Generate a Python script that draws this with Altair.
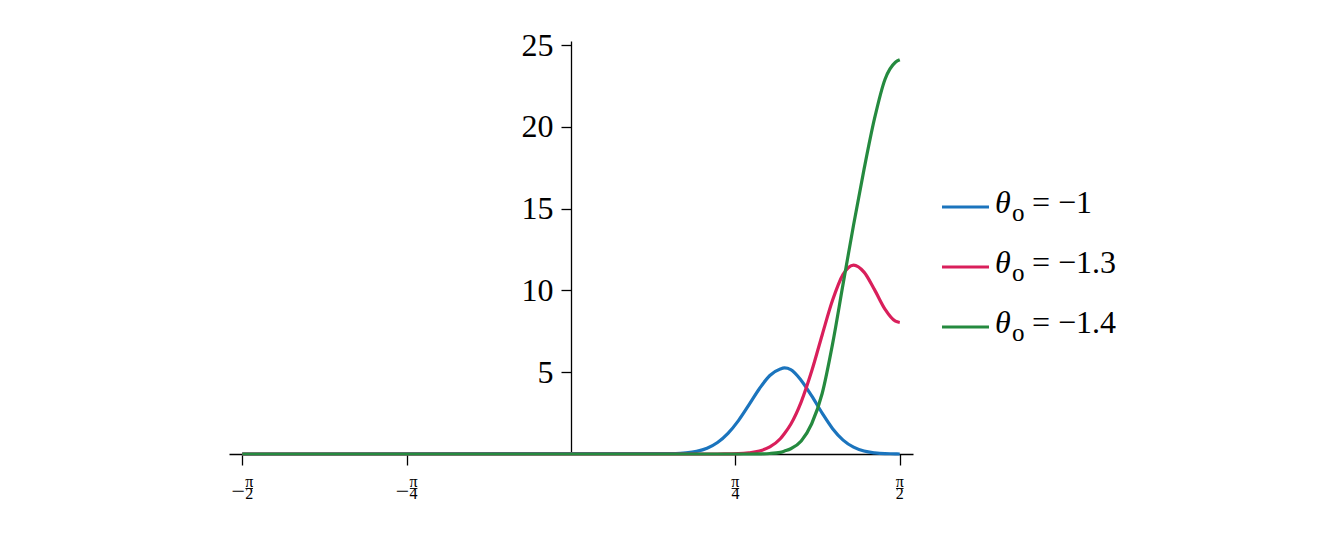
import math
import pandas as pd
import altair as alt

PI = math.pi

# ---- data ----
x_vals = [-PI / 2, 0.50, 0.55, 0.60, 0.65, 0.70, 0.75, 0.80, 0.85, 0.90, 0.95,
          1.00, 1.02, 1.05, 1.10, 1.15, 1.20, 1.25, 1.30, 1.35, 1.40, 1.45, 1.50, 1.55, PI / 2]
blue_vals = [0, 0.03, 0.07, 0.16, 0.35, 0.70, 1.26, 2.04, 3.00, 3.99, 4.80,
             5.20, 5.26, 5.16, 4.50, 3.55, 2.50, 1.55, 0.85, 0.42, 0.18, 0.07, 0.02, 0.01, 0.0]
red_vals = [0, 0, 0, 0, 0, 0, 0.01, 0.02, 0.07, 0.18, 0.43,
            0.93, 1.25, 1.82, 3.19, 5.07, 7.28, 9.41, 10.98, 11.55, 11.12, 10.05, 8.86, 8.12, 8.04]
green_vals = [0, 0, 0, 0, 0, 0, 0, 0, 0, 0.01, 0.03,
              0.10, 0.18, 0.32, 0.80, 1.85, 3.70, 6.75, 10.40, 14.00, 17.40, 20.50, 22.90, 23.95, 24.10]

series_names = ["−1", "−1.3", "−1.4"]
series_colors = ["#1b74bd", "#d91f5b", "#258a3f"]

tick_vals = [-PI / 2, -PI / 4, PI / 4, PI / 2]
tick_frac = ["π\n2", "π\n4", "π\n4", "π\n2"]
tick_neg = [True, True, False, False]

y_tick_vals = [5, 10, 15, 20, 25]

# ---- tables ----
rows = []
for name, vals in zip(series_names, [blue_vals, red_vals, green_vals]):
    for xv, yv in zip(x_vals, vals):
        rows.append({"series": name, "x": xv, "y": yv})
df = pd.DataFrame(rows)

tick_df = pd.DataFrame({"v": tick_vals, "frac": tick_frac, "neg": tick_neg})
leg_df = pd.DataFrame({"series": series_names, "rest": ["= " + s for s in series_names]})

# ---- layout / style ----
W, H = 684, 413
XMAX = 1.634
YMAX = 25.25
FONT = "Liberation Serif"
FS = 32

xscale = alt.Scale(domain=[-XMAX, XMAX], nice=False, zero=False)
yscale = alt.Scale(domain=[0, YMAX], nice=False)
color_scale = alt.Scale(domain=series_names, range=series_colors)

X_AX = alt.Axis(values=tick_vals, labels=False, tickSize=11, grid=False,
                domainColor="black", tickColor="black", domainWidth=1.3, tickWidth=1.3)
Y_AX = alt.Axis(values=y_tick_vals, offset=-W / 2, tickSize=10, labelPadding=8,
                labelFont=FONT, labelFontSize=FS, labelColor="black", grid=False,
                domainColor="black", tickColor="black", domainWidth=1.3, tickWidth=1.3)

X_enc = alt.X("x:Q", scale=xscale, title=None, axis=X_AX)
Y_enc = alt.Y("y:Q", scale=yscale, title=None, axis=Y_AX)

line_layers = []
for name in series_names:
    line_layers.append(
        alt.Chart(df).transform_filter(alt.datum.series == name)
        .mark_line(strokeWidth=3.2, interpolate="monotone")
        .encode(x=X_enc, y=Y_enc,
                color=alt.Color("series:N", scale=color_scale, legend=None))
    )

X_tick = alt.X("v:Q", scale=xscale, title=None, axis=X_AX)
Y_zero = alt.YDatum(0, scale=yscale, title=None, axis=Y_AX)


def tick_fraction(neg, dx):
    return (alt.Chart(tick_df).transform_filter(alt.datum.neg == neg)
            .mark_text(font=FONT, fontSize=16, color="black", align="center",
                       baseline="alphabetic", lineBreak="\n", lineHeight=11.5, dx=dx, dy=33)
            .encode(x=X_tick, y=Y_zero, text=alt.Text("frac:N")))


def tick_bar(neg, dx):
    return (alt.Chart(tick_df).transform_filter(alt.datum.neg == neg)
            .mark_rule(color="black", strokeWidth=0.9, xOffset=dx - 3.8,
                       x2Offset=dx + 3.8, yOffset=34.5)
            .encode(x=X_tick, x2="v:Q", y=Y_zero))


label_layers = []
for neg, dx in [(True, 7), (False, 0)]:
    label_layers.append(tick_fraction(neg, dx))
    label_layers.append(tick_bar(neg, dx))
minus_layer = (alt.Chart(tick_df).transform_filter(alt.datum.neg == True)
               .mark_text(text="−", font=FONT, fontSize=24, color="black", align="right",
                          baseline="alphabetic", dx=2.8, dy=44.8)
               .encode(x=X_tick, y=Y_zero))

# ---- legend (rows placed by a point offset scale) ----
leg_y = alt.value(166)
leg_off = alt.YOffset("series:N", sort=series_names,
                      scale=alt.Scale(type="point", domain=series_names, range=[0, 120], padding=0))
leg_rule = (alt.Chart(leg_df).mark_rule(strokeWidth=3.2)
            .encode(x=alt.value(713), x2=alt.value(760), y=leg_y, yOffset=leg_off,
                    color=alt.Color("series:N", scale=color_scale, legend=None)))
leg_theta = (alt.Chart(leg_df).mark_text(text="θ", font=FONT, fontSize=FS, fontStyle="italic",
                                         align="left", baseline="alphabetic", dy=5.5, color="black")
             .encode(x=alt.value(766), y=leg_y, yOffset=leg_off))
leg_sub = (alt.Chart(leg_df).mark_text(text="o", font=FONT, fontSize=25,
                                       align="left", baseline="alphabetic", dy=13.5, color="black")
           .encode(x=alt.value(783), y=leg_y, yOffset=leg_off))
leg_rest = (alt.Chart(leg_df).mark_text(font=FONT, fontSize=FS,
                                        align="left", baseline="alphabetic", dy=5.5, color="black")
            .encode(x=alt.value(803), y=leg_y, yOffset=leg_off, text="rest:N"))

chart = (alt.layer(*line_layers, *label_layers, minus_layer,
                   leg_rule, leg_theta, leg_sub, leg_rest)
         .properties(width=W, height=H,
                     padding={"left": 221, "top": 33, "right": 300, "bottom": 80},
                     autosize=alt.AutoSizeParams(type="none"))
         .configure_view(stroke=None))

chart.save("out.html", embed_options={"renderer": "svg", "actions": False})
